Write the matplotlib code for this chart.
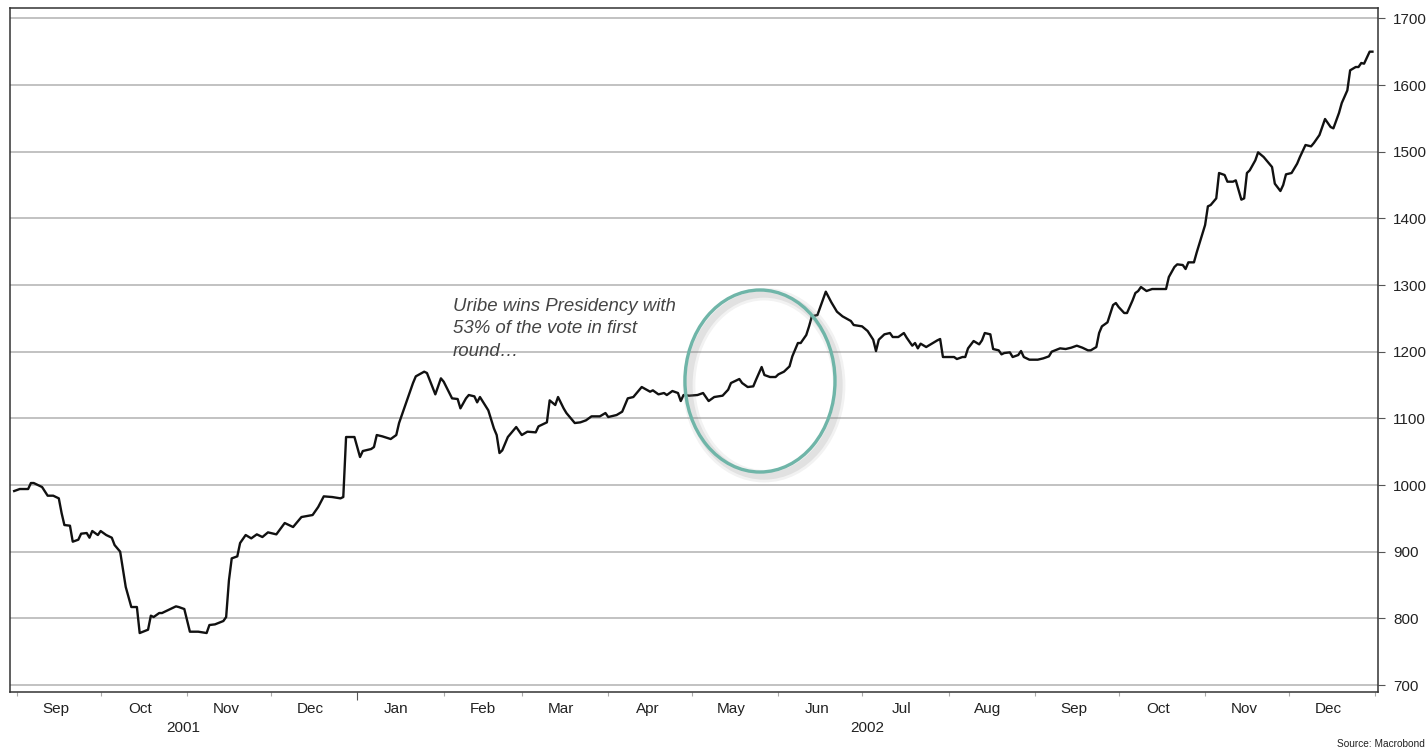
import matplotlib
matplotlib.use("Agg")
import matplotlib.pyplot as plt
import matplotlib.dates as mdates
import matplotlib.patheffects as pe
from matplotlib.patches import Ellipse
import pandas as pd

plt.rcParams['font.family'] = ['Liberation Sans', 'DejaVu Sans']

START = pd.Timestamp("2001-09-01")

# days counted from START and the exchange rate level on each of them
days = [
    -1, 1, 4, 5, 6, 9, 11, 13, 15, 16, 17, 19, 20, 22, 23, 25, 26, 27, 29, 30,
    32, 34, 35, 37, 38, 39, 41, 43, 44, 47, 48, 49, 51, 52, 54, 55, 57, 58, 60, 62,
    65, 68, 69, 71, 74, 75, 76, 77, 79, 80, 82, 84, 86, 88, 90, 93, 96, 99, 102, 106,
    108, 110, 113, 116, 117, 118, 121, 123, 124, 127, 128, 129, 131, 134, 136, 137, 139, 142, 143, 146,
    147, 150, 152, 153, 156, 158, 159, 161, 162, 164, 165, 166, 169, 171, 172, 173, 174, 176, 179, 181,
    183, 186, 187, 190, 191, 193, 194, 196, 197, 200, 202, 204, 206, 209, 211, 212, 215, 217, 219, 221,
    224, 227, 228, 230, 232, 233, 235, 237, 238, 239, 241, 244, 246, 248, 250, 253, 255, 256, 259, 260,
    262, 264, 265, 267, 268, 270, 272, 273, 275, 277, 278, 280, 281, 283, 284, 285, 287, 290, 292, 294,
    296, 299, 300, 303, 305, 307, 308, 309, 311, 313, 314, 316, 318, 319, 321, 322, 323, 324, 326, 328,
    330, 331, 332, 335, 336, 337, 339, 340, 341, 343, 345, 346, 347, 349, 350, 352, 353, 354, 356, 357,
    359, 360, 361, 363, 366, 368, 370, 371, 374, 376, 378, 380, 382, 384, 385, 387, 388, 389, 391, 393,
    394, 395, 397, 398, 400, 401, 402, 403, 405, 407, 410, 412, 413, 415, 416, 418, 419, 420, 422, 423,
    425, 426, 427, 428, 430, 431, 433, 434, 436, 437, 439, 440, 441, 442, 444, 445, 447, 449, 450, 451,
    453, 454, 455, 457, 459, 460, 462, 464, 465, 467, 469, 471, 472, 474, 475, 477, 478, 480, 481, 482,
    483, 485, 486,
]
level = [
    991, 994, 994, 1003, 1003, 997, 984, 984, 980, 958, 940, 939, 915, 918, 927, 928, 921, 931, 925, 931,
    925, 921, 910, 900, 873, 847, 817, 817, 778, 783, 804, 802, 808, 808, 812, 814, 818, 817, 814, 780,
    780, 778, 790, 791, 796, 802, 857, 890, 893, 913, 925, 920, 926, 922, 929, 926, 943, 937, 952, 955,
    967, 983, 982, 980, 982, 1072, 1072, 1042, 1051, 1054, 1057, 1075, 1073, 1069, 1075, 1093, 1117, 1153, 1163, 1170,
    1168, 1136, 1160, 1155, 1130, 1129, 1115, 1130, 1135, 1133, 1124, 1132, 1112, 1085, 1075, 1048, 1052, 1072, 1087, 1075,
    1080, 1079, 1088, 1094, 1127, 1120, 1132, 1115, 1108, 1093, 1094, 1097, 1103, 1103, 1108, 1102, 1105, 1110, 1130, 1132,
    1147, 1140, 1142, 1136, 1138, 1135, 1141, 1138, 1126, 1135, 1134, 1135, 1138, 1126, 1132, 1134, 1143, 1153, 1159, 1153,
    1147, 1148, 1158, 1177, 1165, 1162, 1162, 1166, 1170, 1178, 1193, 1213, 1213, 1225, 1238, 1253, 1255, 1290, 1274, 1260,
    1253, 1246, 1240, 1238, 1231, 1218, 1201, 1218, 1226, 1228, 1222, 1222, 1228, 1221, 1209, 1213, 1205, 1212, 1207, 1212,
    1217, 1219, 1192, 1192, 1192, 1189, 1192, 1192, 1205, 1216, 1211, 1217, 1228, 1226, 1204, 1202, 1196, 1198, 1199, 1192,
    1195, 1201, 1192, 1188, 1188, 1190, 1193, 1200, 1205, 1204, 1206, 1209, 1206, 1202, 1202, 1207, 1228, 1238, 1244, 1270,
    1273, 1267, 1258, 1258, 1277, 1288, 1291, 1297, 1291, 1294, 1294, 1294, 1312, 1327, 1331, 1330, 1324, 1334, 1334, 1349,
    1376, 1390, 1418, 1420, 1430, 1468, 1465, 1455, 1455, 1457, 1428, 1430, 1468, 1472, 1487, 1499, 1492, 1482, 1477, 1452,
    1441, 1450, 1466, 1468, 1482, 1492, 1510, 1508, 1513, 1525, 1549, 1537, 1535, 1558, 1573, 1592, 1622, 1627, 1627, 1633,
    1632, 1650, 1650,
]

y_ticks = list(range(700, 1800, 100))
years = ["2001", "2002"]
note = "Uribe wins Presidency with\n53% of the vote in first\nround\u2026"
source = "Source: Macrobond"

dates = START + pd.to_timedelta(days, unit="D")
t0 = mdates.date2num(START)

fig = plt.figure(figsize=(14.28, 7.55), dpi=100)
ax = fig.add_axes([0.007, 0.0834, 0.958, 0.906])

ax.plot(dates, level, color="#111111", lw=1.7, zorder=3, solid_joinstyle="round")

ax.set_xlim(t0 - 2.5, t0 + 488)
ax.set_ylim(689.5, 1715.5)

# horizontal grid only
ax.set_yticks(y_ticks)
ax.yaxis.grid(True, color="#bdbdbd", lw=1.3)
ax.set_axisbelow(True)
ax.yaxis.tick_right()
ax.tick_params(axis="y", direction="out", length=5, width=0.8, color="#555555",
               labelsize=11, labelcolor="#222222", pad=6)

for s in ax.spines.values():
    s.set_color("#333333")
    s.set_linewidth(1.1)

# month boundaries as small ticks, names centred in the month
ax.xaxis.set_major_locator(mdates.MonthLocator())
ax.xaxis.set_major_formatter(plt.NullFormatter())
ax.xaxis.set_minor_locator(mdates.MonthLocator(bymonthday=15))
ax.xaxis.set_minor_formatter(mdates.DateFormatter("%b"))
ax.tick_params(axis="x", which="major", direction="out", length=3, width=0.8, color="#aaaaaa")
ax.tick_params(axis="x", which="minor", length=0, labelsize=11, labelcolor="#222222", pad=7)

# longer tick at the turn of the year
jan = mdates.date2num(pd.Timestamp("2002-01-01"))
for tk, loc in zip(ax.xaxis.get_major_ticks(), ax.xaxis.get_majorticklocs()):
    if abs(loc - jan) < 0.5:
        tk.tick1line.set_markersize(6)
        tk.tick1line.set_markeredgecolor("#555555")

xlo, xhi = ax.get_xlim()
year_centres = [(xlo + jan) / 2, (jan + xhi) / 2]
for yr, xc in zip(years, year_centres):
    ax.text(xc, -0.052, yr, transform=ax.get_xaxis_transform(), ha="center", va="center",
            fontsize=11, color="#222222")

ax.text(t0 + 156.3, 1281, note, ha="left", va="top", fontsize=13.4, style="italic",
        color="#444444", linespacing=1.42, zorder=4)

ring = Ellipse((t0 + 266.4, 1156), width=53.8, height=273, fill=False,
               edgecolor="#6fb5a8", lw=2.4, zorder=5)
ring.set_path_effects([
    pe.SimpleLineShadow(offset=(3, -3), shadow_color="#808080", alpha=0.10, linewidth=9),
    pe.SimpleLineShadow(offset=(3, -3), shadow_color="#808080", alpha=0.15, linewidth=5),
    pe.Normal(),
])
ax.add_patch(ring)

fig.text(0.998, 0.008, source, ha="right", va="bottom", fontsize=7.3, color="#222222")

fig.savefig("out.png", dpi=100)
